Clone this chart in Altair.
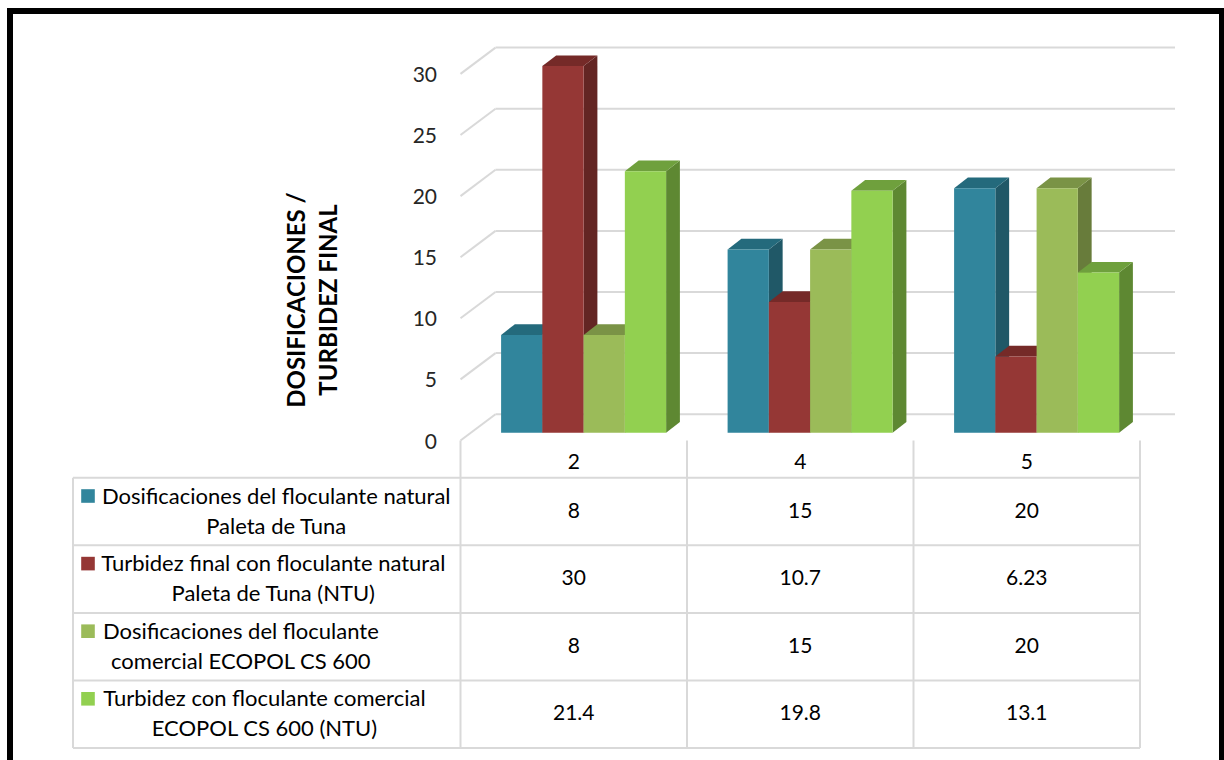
import altair as alt
import pandas as pd

# ---------------- data ----------------
CATEGORIES = ["2", "4", "5"]
SERIES = [
    "Dosificaciones del floculante natural\nPaleta de Tuna",
    "Turbidez final con floculante natural\nPaleta de Tuna (NTU)",
    "Dosificaciones del floculante\ncomercial ECOPOL CS 600",
    "Turbidez con floculante comercial\nECOPOL CS 600 (NTU)",
]
DOSIS_NATURAL = [8, 15, 20]
TURBIDEZ_NATURAL = [30, 10.7, 6.23]
DOSIS_COMERCIAL = [8, 15, 20]
TURBIDEZ_COMERCIAL = [21.4, 19.8, 13.1]
VALUES = [DOSIS_NATURAL, TURBIDEZ_NATURAL, DOSIS_COMERCIAL, TURBIDEZ_COMERCIAL]
Y_TICKS = [0, 5, 10, 15, 20, 25, 30]
Y_TITLE = "DOSIFICACIONES /\nTURBIDEZ FINAL"

# ---------------- colours (front / top / side faces) ----------------
FRONT = ["#31859C", "#953735", "#9BBB59", "#92D050"]
TOP = ["#246A7C", "#752A28", "#7A9346", "#6FA03D"]
SIDE = ["#205867", "#632523", "#687C3B", "#5E8832"]
GRID = "#D9D9D9"
FONT = "Lato"

# ---------------- layout ----------------
W, H = 1224, 760
COL_PX = 226.5          # pixels per category column
UNIT_PX = 12.22         # pixels per value unit
ORIGIN_X, ORIGIN_Y = 460.5, 440.5   # front-left corner of the floor
LINE_H = 30             # line height of the two-line series labels


def ux(p):
    """horizontal pixel length -> column units"""
    return p / COL_PX


def uy(p):
    """vertical pixel length -> value units"""
    return p / UNIT_PX


X_DOMAIN = [-ux(ORIGIN_X), ux(W - ORIGIN_X)]
Y_DOMAIN = [-uy(H - ORIGIN_Y), uy(ORIGIN_Y)]

WALL_DX, WALL_DY = ux(35), uy(26.3)      # depth of the whole 3-D box
BAR_DX, BAR_DY = ux(10), uy(7.8)         # bars sit a little behind the front edge
DEPTH_DX, DEPTH_DY = ux(13.8), uy(10.7)  # depth of each bar
GAP = ux(30.6)
BAR_W = ux(41.25)
HEADER_H = uy(37.2)
ROW_H = uy(67.6)
LABEL_LEFT = -ux(ORIGIN_X - 73)
KEY_X = -ux(ORIGIN_X - 88)
TEXT_LEFT = 101 - ORIGIN_X
N_COLS = len(CATEGORIES)

xs = alt.Scale(domain=X_DOMAIN, nice=False, zero=False)
ys = alt.Scale(domain=Y_DOMAIN, nice=False, zero=False)


def X(f, **kw):
    return alt.X(f, scale=xs, axis=None, **kw)


def Y(f, **kw):
    return alt.Y(f, scale=ys, axis=None, **kw)


# ---------------- 3-D bar faces ----------------
fronts, sides, tops = [], [], []
for g, cat in enumerate(CATEGORIES):
    for s, vals in enumerate(VALUES):
        v = vals[g]
        x0 = g + GAP + BAR_DX + s * BAR_W
        x1 = x0 + BAR_W
        bid = f"{cat}-{s}"
        fronts.append(dict(x=x0, x2=x1, y=BAR_DY, y2=BAR_DY + v, c=FRONT[s]))
        sides += [
            dict(id=bid, x=x1, y=BAR_DY, y2=BAR_DY + v, c=SIDE[s]),
            dict(id=bid, x=x1 + DEPTH_DX, y=BAR_DY + DEPTH_DY,
                 y2=BAR_DY + v + DEPTH_DY, c=SIDE[s]),
        ]
        tops += [
            dict(id=bid, y=BAR_DY + v, x=x0, x2=x1, c=TOP[s]),
            dict(id=bid, y=BAR_DY + v + DEPTH_DY, x=x0 + DEPTH_DX,
                 x2=x1 + DEPTH_DX, c=TOP[s]),
        ]

side_layer = alt.Chart(pd.DataFrame(sides)).mark_area(orient="vertical").encode(
    x=X("x:Q"), y=Y("y:Q", stack=None), y2="y2:Q",
    detail="id:N", color=alt.Color("c:N", scale=None),
)
top_layer = alt.Chart(pd.DataFrame(tops)).mark_area(orient="horizontal").encode(
    y=Y("y:Q"), x=X("x:Q", stack=None), x2="x2:Q",
    detail="id:N", color=alt.Color("c:N", scale=None),
)
front_layer = alt.Chart(pd.DataFrame(fronts)).mark_rect().encode(
    x=X("x:Q"), x2="x2:Q", y=Y("y:Q"), y2="y2:Q",
    color=alt.Color("c:N", scale=None),
)

# ---------------- walls: gridlines ----------------
grid = []
for t in Y_TICKS:
    grid.append(dict(x=0, x2=WALL_DX, y=t, y2=t + WALL_DY))
    grid.append(dict(x=WALL_DX, x2=N_COLS + WALL_DX, y=t + WALL_DY, y2=t + WALL_DY))
grid_layer = alt.Chart(pd.DataFrame(grid)).mark_rule(
    color=GRID, strokeWidth=2
).encode(x=X("x:Q"), x2="x2:Q", y=Y("y:Q"), y2="y2:Q")

# ---------------- data table ----------------
n_rows = len(SERIES)
bottom = -HEADER_H - n_rows * ROW_H
table = []
for i in range(n_rows + 1):
    yy = -HEADER_H - i * ROW_H
    table.append(dict(x=LABEL_LEFT, x2=N_COLS, y=yy, y2=yy))
for c in range(N_COLS + 1):
    table.append(dict(x=c, x2=c, y=0, y2=bottom))
table.append(dict(x=LABEL_LEFT, x2=LABEL_LEFT, y=-HEADER_H, y2=bottom))
table_layer = alt.Chart(pd.DataFrame(table)).mark_rule(
    color=GRID, strokeWidth=2
).encode(x=X("x:Q"), x2="x2:Q", y=Y("y:Q"), y2="y2:Q")


def est_width(s):
    """rough rendered width (px) of a label line"""
    w = 0.0
    for ch in s:
        if ch in "iljtfr ()/.,":
            w += 0.5
        elif ch == "m":
            w += 1.5
        elif ch.isupper():
            w += 1.2
        else:
            w += 1.0
    return w * 11.8


labels, keys, cells = [], [], []
for i, name in enumerate(SERIES):
    row_top = -HEADER_H - i * ROW_H
    cy = row_top - ROW_H / 2
    longest = max(name.split("\n"), key=est_width)
    labels.append(dict(x=ux(TEXT_LEFT + est_width(longest) / 2), y=cy, t=name))
    keys.append(dict(x=KEY_X, y=row_top - uy(18.3), c=FRONT[i]))
    for g in range(N_COLS):
        cells.append(dict(x=g + 0.5, y=cy, t=f"{VALUES[i][g]:g}"))

# first line is anchored at y, so lift the two-line block by half a line
label_layer = alt.Chart(pd.DataFrame(labels)).mark_text(
    font=FONT, fontSize=22, lineBreak="\n", lineHeight=LINE_H,
    align="center", baseline="middle", dy=-LINE_H / 2, color="#000000",
).encode(x=X("x:Q"), y=Y("y:Q"), text="t:N")

key_layer = alt.Chart(pd.DataFrame(keys)).mark_square(
    size=185, opacity=1, filled=True
).encode(x=X("x:Q"), y=Y("y:Q"), color=alt.Color("c:N", scale=None))

cell_layer = alt.Chart(pd.DataFrame(cells)).mark_text(
    font=FONT, fontSize=21, align="center", baseline="middle", color="#000000",
).encode(x=X("x:Q"), y=Y("y:Q"), text="t:N")

header_layer = alt.Chart(pd.DataFrame(
    dict(x=[g + 0.5 for g in range(N_COLS)], y=[-HEADER_H / 2] * N_COLS, t=CATEGORIES)
)).mark_text(
    font=FONT, fontSize=21, align="center", baseline="middle", dy=4, color="#000000",
).encode(x=X("x:Q"), y=Y("y:Q"), text="t:N")

# ---------------- value axis labels and title ----------------
tick_layer = alt.Chart(pd.DataFrame(
    dict(x=[-ux(ORIGIN_X - 437)] * len(Y_TICKS), y=Y_TICKS, t=[str(t) for t in Y_TICKS])
)).mark_text(
    font=FONT, fontSize=21, align="right", baseline="middle", dy=2, color="#262626",
).encode(x=X("x:Q"), y=Y("y:Q"), text="t:N")

# anchored at the first line; the second line follows to its right
title_layer = alt.Chart(pd.DataFrame(
    dict(x=[-ux(ORIGIN_X - 298)], y=[uy(ORIGIN_Y - 300)], t=[Y_TITLE])
)).mark_text(
    font=FONT, fontSize=24, fontWeight="bold", angle=270, lineBreak="\n",
    lineHeight=32, align="center", baseline="middle", color="#000000",
).encode(x=X("x:Q"), y=Y("y:Q"), text="t:N")

# ---------------- outer frame ----------------
frame = alt.Chart(alt.Data(values=[{}])).mark_rect(
    fill="transparent", stroke="#000000", strokeWidth=6
).encode(
    x=alt.value(10), x2=alt.value(1222), y=alt.value(11), y2=alt.value(H + 20)
)

chart = alt.layer(
    grid_layer, table_layer,
    side_layer, top_layer, front_layer,
    header_layer, label_layer, key_layer, cell_layer,
    tick_layer, title_layer, frame,
).properties(
    width=W, height=H, padding=0, autosize=alt.AutoSizeParams(type="none"),
    background="#FFFFFF",
).configure_view(strokeWidth=0)

chart.save("out.html", embed_options={"renderer": "svg", "actions": False})
